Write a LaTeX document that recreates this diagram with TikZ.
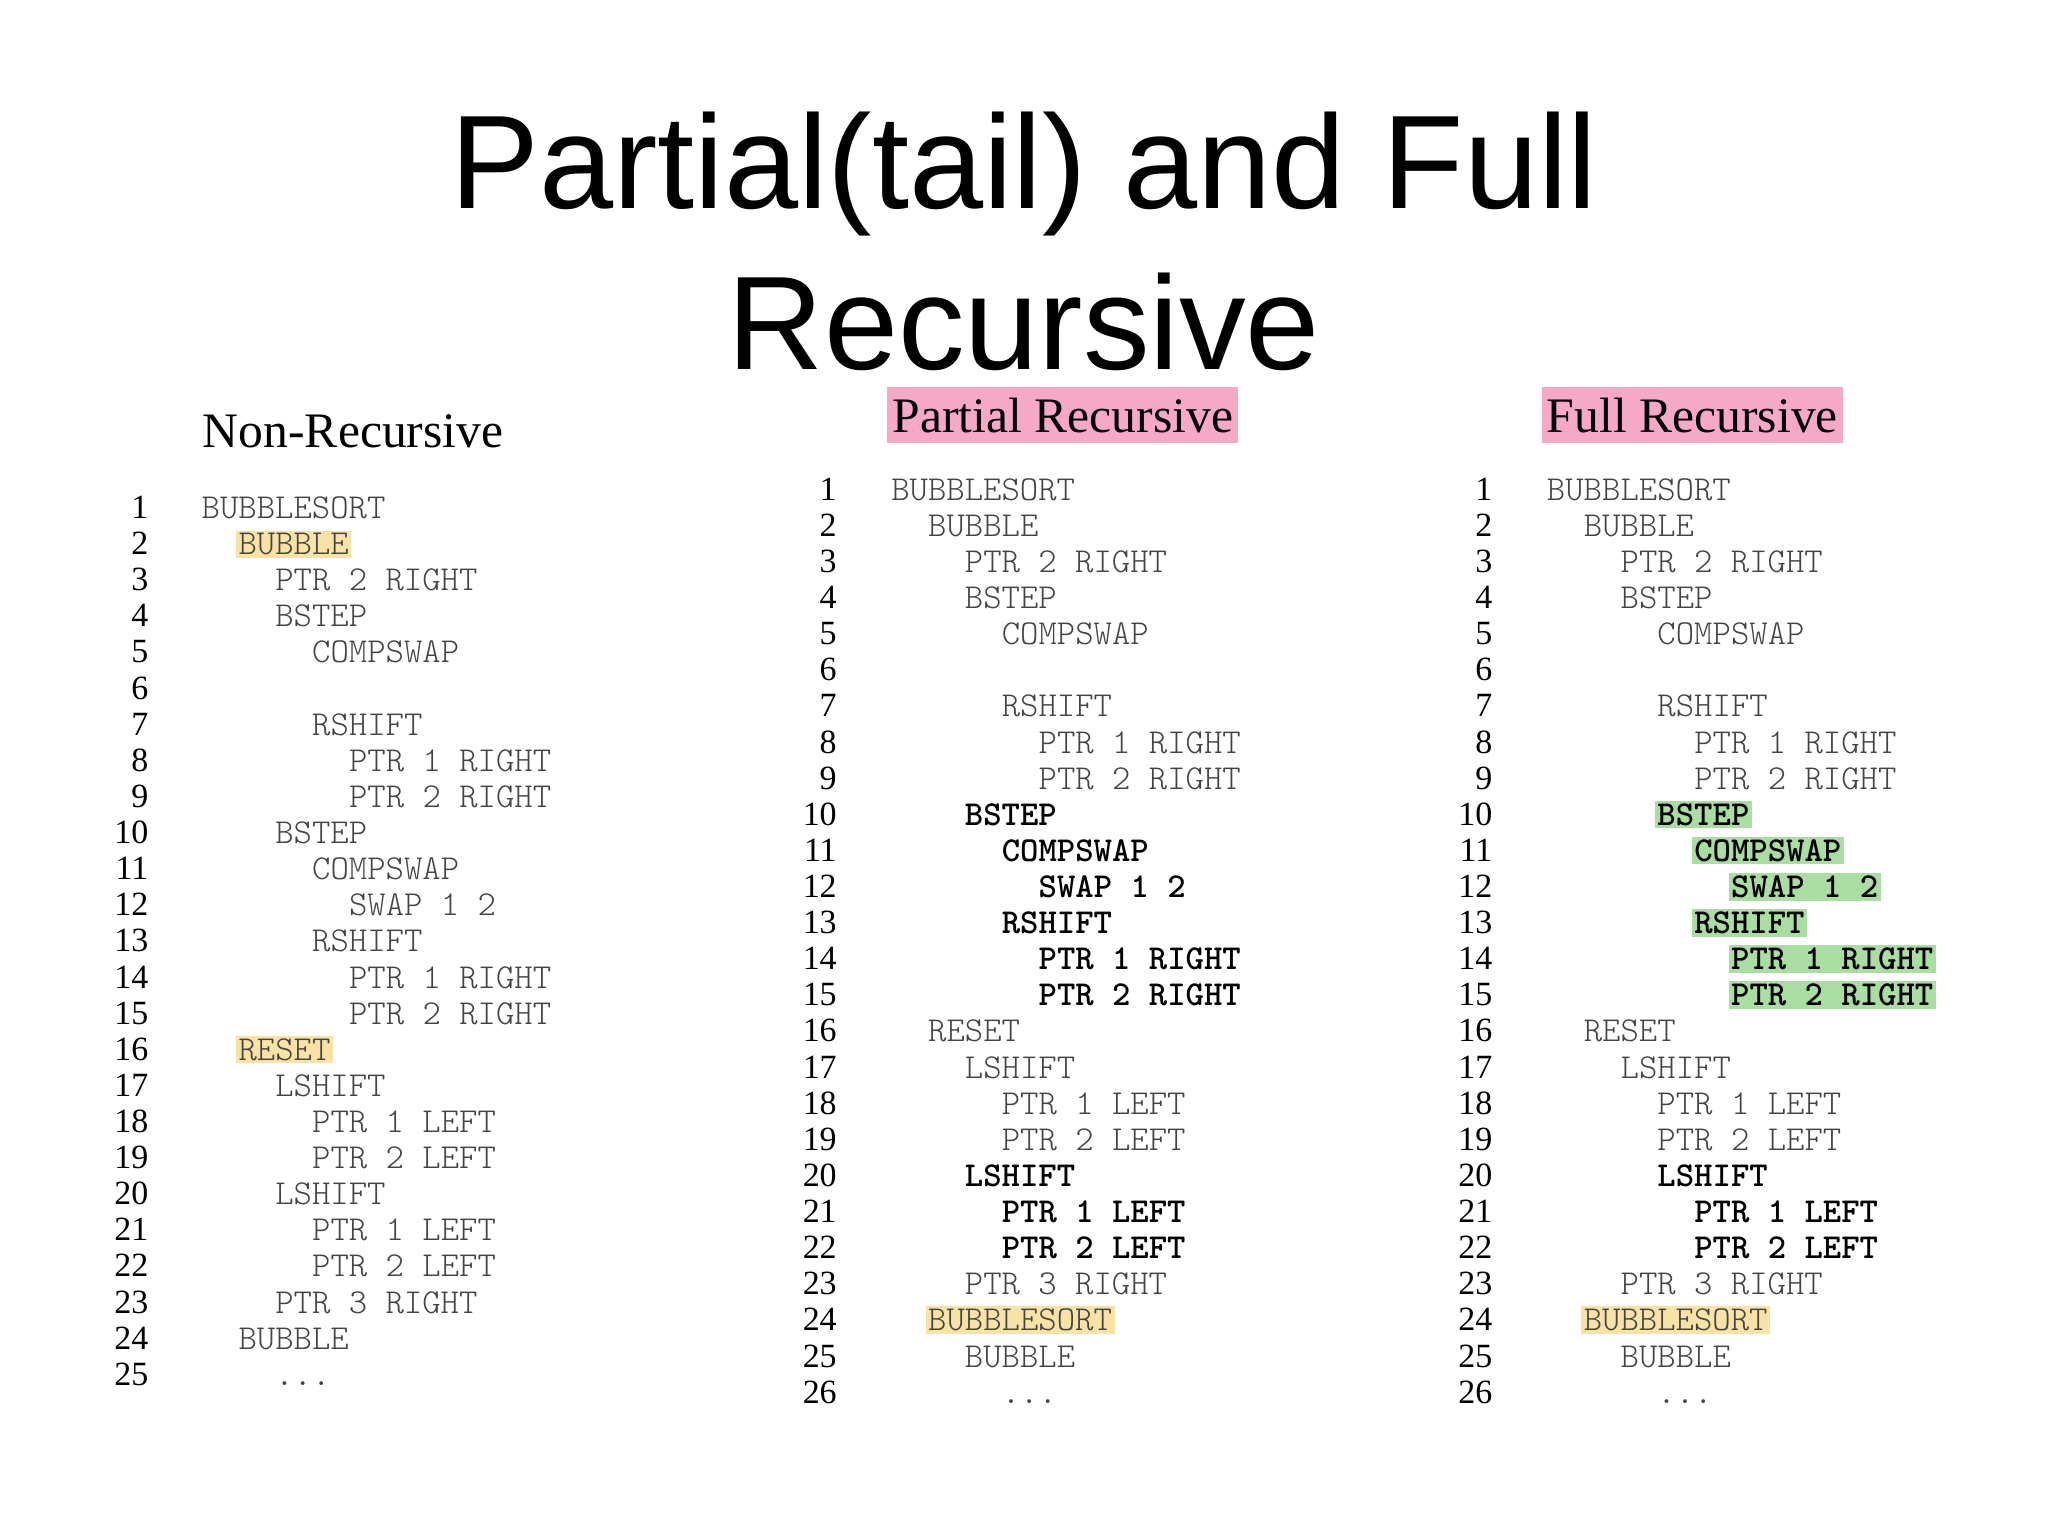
\documentclass[tikz,border=0pt]{standalone}
\usepackage{fontspec}
\setmainfont{Liberation Serif}
\setmonofont{Latin Modern Mono Light}
\newfontfamily\titlefont{Liberation Sans}
\definecolor{hlyellow}{HTML}{F9E2A6}
\definecolor{hlpink}{HTML}{F5A9C6}
\definecolor{hlgreen}{HTML}{A9DDA2}
\definecolor{codegray}{HTML}{444444}
\tikzset{
  num/.style={font=\fontsize{13}{13}\selectfont, anchor=base east, inner sep=0pt},
  code/.style={font=\ttfamily\fontsize{13.4}{13.4}\selectfont, text=codegray, anchor=base west, inner sep=1pt},
  bd/.style={font=\ttfamily\bfseries\fontsize{13.4}{13.4}\selectfont, text=black},
  yl/.style={fill=hlyellow},
  gr/.style={fill=hlgreen, bd},
  head/.style={font=\fontsize{19}{19}\selectfont, anchor=base west, inner sep=2pt},
}
% \Ln[style]{xnum}{xcode}{y0}{n}{indent}{text}
\newcommand\Ln[7][]{%
  \node[num] (n-#2-#5) at (#2, {#4+(#5-1)*27.65}) {#5};
  \node[code,#1] (c-#2-#5) at ({#3+#6*28.2-1}, {#4+(#5-1)*27.65}) {#7};}
\begin{document}
\begin{tikzpicture}[x=0.5pt,y=-0.5pt]
\useasboundingbox (0,0) rectangle (1568,1176);
\fill[white] (0,0) rectangle (1568,1176);
\node[font=\titlefont\fontsize{51}{51}\selectfont, anchor=base] (t1) at (784,160) {Partial(tail) and Full};
\node[font=\titlefont\fontsize{51}{51}\selectfont, anchor=base] (t2) at (784,283) {Recursive};
\node[head] (h1) at (151,343) {Non-Recursive};
\node[head, fill=hlpink, inner xsep=2pt, inner ysep=4pt] (h2) at (679,331) {Partial Recursive};
\node[head, fill=hlpink, inner xsep=2pt, inner ysep=4pt] (h3) at (1180,331) {Full Recursive};
% Non-recursive
\def\xa{114}\def\xb{153}\def\ya{397}
\Ln{\xa}{\xb}{\ya}{1}{0}{BUBBLESORT}
\Ln[yl]{\xa}{\xb}{\ya}{2}{1}{BUBBLE}
\Ln{\xa}{\xb}{\ya}{3}{2}{PTR 2 RIGHT}
\Ln{\xa}{\xb}{\ya}{4}{2}{BSTEP}
\Ln{\xa}{\xb}{\ya}{5}{3}{COMPSWAP}
\Ln{\xa}{\xb}{\ya}{6}{3}{}
\Ln{\xa}{\xb}{\ya}{7}{3}{RSHIFT}
\Ln{\xa}{\xb}{\ya}{8}{4}{PTR 1 RIGHT}
\Ln{\xa}{\xb}{\ya}{9}{4}{PTR 2 RIGHT}
\Ln{\xa}{\xb}{\ya}{10}{2}{BSTEP}
\Ln{\xa}{\xb}{\ya}{11}{3}{COMPSWAP}
\Ln{\xa}{\xb}{\ya}{12}{4}{SWAP 1 2}
\Ln{\xa}{\xb}{\ya}{13}{3}{RSHIFT}
\Ln{\xa}{\xb}{\ya}{14}{4}{PTR 1 RIGHT}
\Ln{\xa}{\xb}{\ya}{15}{4}{PTR 2 RIGHT}
\Ln[yl]{\xa}{\xb}{\ya}{16}{1}{RESET}
\Ln{\xa}{\xb}{\ya}{17}{2}{LSHIFT}
\Ln{\xa}{\xb}{\ya}{18}{3}{PTR 1 LEFT}
\Ln{\xa}{\xb}{\ya}{19}{3}{PTR 2 LEFT}
\Ln{\xa}{\xb}{\ya}{20}{2}{LSHIFT}
\Ln{\xa}{\xb}{\ya}{21}{3}{PTR 1 LEFT}
\Ln{\xa}{\xb}{\ya}{22}{3}{PTR 2 LEFT}
\Ln{\xa}{\xb}{\ya}{23}{2}{PTR 3 RIGHT}
\Ln{\xa}{\xb}{\ya}{24}{1}{BUBBLE}
\Ln{\xa}{\xb}{\ya}{25}{2}{...}
% Partial
\def\xa{641}\def\xb{681}\def\ya{383}
\Ln{\xa}{\xb}{\ya}{1}{0}{BUBBLESORT}
\Ln{\xa}{\xb}{\ya}{2}{1}{BUBBLE}
\Ln{\xa}{\xb}{\ya}{3}{2}{PTR 2 RIGHT}
\Ln{\xa}{\xb}{\ya}{4}{2}{BSTEP}
\Ln{\xa}{\xb}{\ya}{5}{3}{COMPSWAP}
\Ln{\xa}{\xb}{\ya}{6}{3}{}
\Ln{\xa}{\xb}{\ya}{7}{3}{RSHIFT}
\Ln{\xa}{\xb}{\ya}{8}{4}{PTR 1 RIGHT}
\Ln{\xa}{\xb}{\ya}{9}{4}{PTR 2 RIGHT}
\Ln[bd]{\xa}{\xb}{\ya}{10}{2}{BSTEP}
\Ln[bd]{\xa}{\xb}{\ya}{11}{3}{COMPSWAP}
\Ln[bd]{\xa}{\xb}{\ya}{12}{4}{SWAP 1 2}
\Ln[bd]{\xa}{\xb}{\ya}{13}{3}{RSHIFT}
\Ln[bd]{\xa}{\xb}{\ya}{14}{4}{PTR 1 RIGHT}
\Ln[bd]{\xa}{\xb}{\ya}{15}{4}{PTR 2 RIGHT}
\Ln{\xa}{\xb}{\ya}{16}{1}{RESET}
\Ln{\xa}{\xb}{\ya}{17}{2}{LSHIFT}
\Ln{\xa}{\xb}{\ya}{18}{3}{PTR 1 LEFT}
\Ln{\xa}{\xb}{\ya}{19}{3}{PTR 2 LEFT}
\Ln[bd]{\xa}{\xb}{\ya}{20}{2}{LSHIFT}
\Ln[bd]{\xa}{\xb}{\ya}{21}{3}{PTR 1 LEFT}
\Ln[bd]{\xa}{\xb}{\ya}{22}{3}{PTR 2 LEFT}
\Ln{\xa}{\xb}{\ya}{23}{2}{PTR 3 RIGHT}
\Ln[yl]{\xa}{\xb}{\ya}{24}{1}{BUBBLESORT}
\Ln{\xa}{\xb}{\ya}{25}{2}{BUBBLE}
\Ln{\xa}{\xb}{\ya}{26}{3}{...}
% Full
\def\xa{1143}\def\xb{1183}\def\ya{383}
\Ln{\xa}{\xb}{\ya}{1}{0}{BUBBLESORT}
\Ln{\xa}{\xb}{\ya}{2}{1}{BUBBLE}
\Ln{\xa}{\xb}{\ya}{3}{2}{PTR 2 RIGHT}
\Ln{\xa}{\xb}{\ya}{4}{2}{BSTEP}
\Ln{\xa}{\xb}{\ya}{5}{3}{COMPSWAP}
\Ln{\xa}{\xb}{\ya}{6}{3}{}
\Ln{\xa}{\xb}{\ya}{7}{3}{RSHIFT}
\Ln{\xa}{\xb}{\ya}{8}{4}{PTR 1 RIGHT}
\Ln{\xa}{\xb}{\ya}{9}{4}{PTR 2 RIGHT}
\Ln[gr]{\xa}{\xb}{\ya}{10}{3}{BSTEP}
\Ln[gr]{\xa}{\xb}{\ya}{11}{4}{COMPSWAP}
\Ln[gr]{\xa}{\xb}{\ya}{12}{5}{SWAP 1 2}
\Ln[gr]{\xa}{\xb}{\ya}{13}{4}{RSHIFT}
\Ln[gr]{\xa}{\xb}{\ya}{14}{5}{PTR 1 RIGHT}
\Ln[gr]{\xa}{\xb}{\ya}{15}{5}{PTR 2 RIGHT}
\Ln{\xa}{\xb}{\ya}{16}{1}{RESET}
\Ln{\xa}{\xb}{\ya}{17}{2}{LSHIFT}
\Ln{\xa}{\xb}{\ya}{18}{3}{PTR 1 LEFT}
\Ln{\xa}{\xb}{\ya}{19}{3}{PTR 2 LEFT}
\Ln[bd]{\xa}{\xb}{\ya}{20}{3}{LSHIFT}
\Ln[bd]{\xa}{\xb}{\ya}{21}{4}{PTR 1 LEFT}
\Ln[bd]{\xa}{\xb}{\ya}{22}{4}{PTR 2 LEFT}
\Ln{\xa}{\xb}{\ya}{23}{2}{PTR 3 RIGHT}
\Ln[yl]{\xa}{\xb}{\ya}{24}{1}{BUBBLESORT}
\Ln{\xa}{\xb}{\ya}{25}{2}{BUBBLE}
\Ln{\xa}{\xb}{\ya}{26}{3}{...}
\end{tikzpicture}
\end{document}
